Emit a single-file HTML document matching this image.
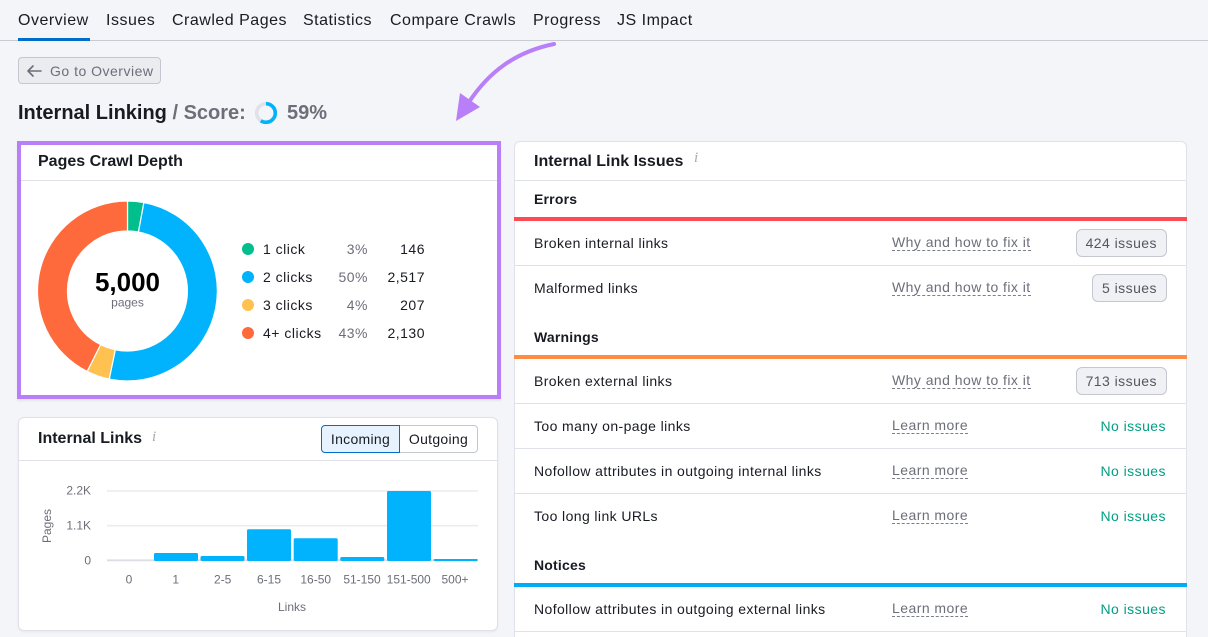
<!DOCTYPE html>
<html><head><meta charset="utf-8">
<style>
*{margin:0;padding:0;box-sizing:border-box}
html,body{width:1208px;height:637px;overflow:hidden;background:#f4f5f9;font-family:"Liberation Sans",Arial,sans-serif;color:#191b23}
#r{position:relative;width:1208px;height:637px;overflow:hidden;background:#f4f5f9}
.a{position:absolute;white-space:nowrap}
.tab{top:10px;font-size:16px;line-height:22px;letter-spacing:.5px;color:#191b23}
.t14{font-size:14px;line-height:20px;letter-spacing:.4px}
.h16{font-size:16px;line-height:22px;font-weight:bold}
.b14{font-size:14px;line-height:20px;font-weight:bold;letter-spacing:.2px}
.lnk{font-size:14px;line-height:15px;letter-spacing:.45px;color:#6c6e79;border-bottom:1px dashed #7c7e89}
.badge{height:28px;padding:0 9px;font-size:14px;line-height:26px;letter-spacing:.45px;border:1px solid #c4c7cf;background:#f0f1f5;border-radius:6px;color:#55575f}
.ok{font-size:14px;line-height:20px;letter-spacing:.45px;color:#009f81}
.div{height:1px;background:#e0e1e9}
.gray{color:#6c6e79}
</style></head><body>
<div id="r">

<!-- tabs -->
<div class="a tab" style="left:18px">Overview</div>
<div class="a tab" style="left:106px">Issues</div>
<div class="a tab" style="left:172px">Crawled Pages</div>
<div class="a tab" style="left:303px">Statistics</div>
<div class="a tab" style="left:390px">Compare Crawls</div>
<div class="a tab" style="left:533px">Progress</div>
<div class="a tab" style="left:617px">JS Impact</div>
<div class="a" style="left:0;top:40px;width:1208px;height:1px;background:#c9cbd3"></div>
<div class="a" style="left:18px;top:38px;width:72px;height:3px;background:#006dca"></div>

<!-- back button -->
<div class="a" style="left:18px;top:57px;width:143px;height:27px;border:1px solid #c4c7cf;background:#ebecf0;border-radius:4px"></div>
<div class="a t14 gray" style="left:50px;top:61px;letter-spacing:.5px">Go to Overview</div>

<!-- heading -->
<div class="a" style="left:18px;top:101px;font-size:20px;line-height:24px;font-weight:bold">Internal Linking <span style="color:#6c6e79">/ Score:</span></div>
<div class="a" style="left:287px;top:101px;font-size:20px;line-height:24px;font-weight:bold;color:#6c6e79">59%</div>

<!-- left card 1 (highlighted) -->
<div class="a" style="left:17px;top:141px;width:484px;height:258px;border:4px solid #b87ff8;background:#fff;box-shadow:0 2px 2px rgba(0,0,0,.07)"></div>
<div class="a h16" style="left:38px;top:151px">Pages Crawl Depth</div>
<div class="a div" style="left:21px;top:180px;width:476px"></div>

<!-- left card 2 -->
<div class="a" style="left:18px;top:417px;width:480px;height:214px;border:1px solid #e0e1e9;background:#fff;border-radius:6px;box-shadow:0 1px 2px rgba(0,0,0,.06)"></div>
<div class="a h16" style="left:38px;top:428px">Internal Links</div>
<div class="a" style="left:152px;top:427px;font-family:'Liberation Serif',serif;font-style:italic;font-size:15px;line-height:20px;color:#a7a9b2">i</div>
<div class="a div" style="left:19px;top:460px;width:478px"></div>
<div class="a" style="left:399px;top:425px;width:79px;height:28px;border:1px solid #c4c7cf;border-radius:0 4px 4px 0;background:#fff"></div>
<div class="a" style="left:321px;top:425px;width:79px;height:28px;border:1px solid #006dca;border-radius:4px 0 0 4px;background:#e6f3ff"></div>
<div class="a t14" style="left:321px;top:429px;width:79px;text-align:center;letter-spacing:.3px">Incoming</div>
<div class="a t14" style="left:399px;top:429px;width:79px;text-align:center;letter-spacing:.3px">Outgoing</div>

<!-- right card -->
<div class="a" style="left:514px;top:141px;width:673px;height:510px;border:1px solid #e0e1e9;background:#fff;border-radius:6px"></div>
<div class="a h16" style="left:534px;top:151px">Internal Link Issues</div>
<div class="a" style="left:694px;top:148px;font-family:'Liberation Serif',serif;font-style:italic;font-size:15px;line-height:20px;color:#a7a9b2">i</div>
<div class="a div" style="left:515px;top:180px;width:671px"></div>

<div class="a b14" style="left:534px;top:189px">Errors</div>
<div class="a" style="left:514px;top:217px;width:673px;height:4px;background:#ff4953"></div>

<div class="a t14" style="left:534px;top:233px">Broken internal links</div>
<div class="a lnk" style="left:892px;top:235px">Why and how to fix it</div>
<div class="a badge" style="right:41px;top:229px">424 issues</div>
<div class="a div" style="left:515px;top:265px;width:671px"></div>

<div class="a t14" style="left:534px;top:278px">Malformed links</div>
<div class="a lnk" style="left:892px;top:280px">Why and how to fix it</div>
<div class="a badge" style="right:41px;top:274px">5 issues</div>

<div class="a b14" style="left:534px;top:327px">Warnings</div>
<div class="a" style="left:514px;top:355px;width:673px;height:4px;background:#ff8c44"></div>

<div class="a t14" style="left:534px;top:371px">Broken external links</div>
<div class="a lnk" style="left:892px;top:373px">Why and how to fix it</div>
<div class="a badge" style="right:41px;top:367px">713 issues</div>
<div class="a div" style="left:515px;top:403px;width:671px"></div>

<div class="a t14" style="left:534px;top:416px">Too many on-page links</div>
<div class="a lnk" style="left:892px;top:418px">Learn more</div>
<div class="a ok" style="right:42px;top:416px">No issues</div>
<div class="a div" style="left:515px;top:448px;width:671px"></div>

<div class="a t14" style="left:534px;top:461px">Nofollow attributes in outgoing internal links</div>
<div class="a lnk" style="left:892px;top:463px">Learn more</div>
<div class="a ok" style="right:42px;top:461px">No issues</div>
<div class="a div" style="left:515px;top:493px;width:671px"></div>

<div class="a t14" style="left:534px;top:506px">Too long link URLs</div>
<div class="a lnk" style="left:892px;top:508px">Learn more</div>
<div class="a ok" style="right:42px;top:506px">No issues</div>

<div class="a b14" style="left:534px;top:555px">Notices</div>
<div class="a" style="left:514px;top:583px;width:673px;height:4px;background:#00adf5"></div>

<div class="a t14" style="left:534px;top:599px">Nofollow attributes in outgoing external links</div>
<div class="a lnk" style="left:892px;top:601px">Learn more</div>
<div class="a ok" style="right:42px;top:599px">No issues</div>
<div class="a div" style="left:515px;top:631px;width:671px"></div>

<!-- legend -->
<div class="a" style="left:242px;top:243px;width:12px;height:12px;border-radius:50%;background:#00bf8c"></div>
<div class="a" style="left:242px;top:271px;width:12px;height:12px;border-radius:50%;background:#00b3fc"></div>
<div class="a" style="left:242px;top:299px;width:12px;height:12px;border-radius:50%;background:#ffc250"></div>
<div class="a" style="left:242px;top:327px;width:12px;height:12px;border-radius:50%;background:#ff6a3c"></div>

<div class="a t14" style="left:263px;top:239px;letter-spacing:.5px">1 click</div>
<div class="a t14" style="left:263px;top:267px;letter-spacing:.5px">2 clicks</div>
<div class="a t14" style="left:263px;top:295px;letter-spacing:.5px">3 clicks</div>
<div class="a t14" style="left:263px;top:323px;letter-spacing:.5px">4+ clicks</div>

<div class="a t14 gray" style="right:840px;top:239px;letter-spacing:.5px">3%</div>
<div class="a t14 gray" style="right:840px;top:267px;letter-spacing:.5px">50%</div>
<div class="a t14 gray" style="right:840px;top:295px;letter-spacing:.5px">4%</div>
<div class="a t14 gray" style="right:840px;top:323px;letter-spacing:.5px">43%</div>

<div class="a t14" style="right:783px;top:239px;letter-spacing:.5px">146</div>
<div class="a t14" style="right:783px;top:267px;letter-spacing:.5px">2,517</div>
<div class="a t14" style="right:783px;top:295px;letter-spacing:.5px">207</div>
<div class="a t14" style="right:783px;top:323px;letter-spacing:.5px">2,130</div>

<svg class="a" style="left:0;top:0" width="1208" height="637" viewBox="0 0 1208 637" xmlns="http://www.w3.org/2000/svg">
  <!-- back arrow -->
  <path d="M41 71 H28 M33 66 L28 71 L33 76" fill="none" stroke="#6c6e79" stroke-width="1.6" stroke-linecap="round" stroke-linejoin="round"/>
  <!-- score ring -->
  <circle cx="266" cy="113" r="9.3" fill="none" stroke="#e0e1e9" stroke-width="3.6"/>
  <circle cx="266" cy="113" r="9.3" fill="none" stroke="#00b3fc" stroke-width="3.6" stroke-dasharray="34.5 100" transform="rotate(-90 266 113)"/>
  <!-- purple arrow -->
  <path d="M554 44 C515 52 489 72 469 102" fill="none" stroke="#b87ff8" stroke-width="4" stroke-linecap="round"/>
  <polygon points="456,121 480,107 460,93" fill="#b87ff8"/>

  <!-- donut -->
  <g stroke="#fff" stroke-width="1.2" stroke-linejoin="round">
    <path d="M127.5,201 A90,90 0 0 1 143.92,202.51 L138.44,232.01 A60,60 0 0 0 127.5,231 Z" fill="#00bf8c"/>
    <path d="M143.92,202.51 A90,90 0 1 1 109.19,379.12 L115.29,349.75 A60,60 0 1 0 138.44,232.01 Z" fill="#00b3fc"/>
    <path d="M109.19,379.12 A90,90 0 0 1 87.15,371.45 L100.60,344.63 A60,60 0 0 0 115.29,349.75 Z" fill="#ffc250"/>
    <path d="M87.15,371.45 A90,90 0 0 1 127.5,201 L127.5,231 A60,60 0 0 0 100.60,344.63 Z" fill="#ff6a3c"/>
  </g>
  <text x="127.5" y="291" text-anchor="middle" font-family="Liberation Sans, Arial, sans-serif" font-weight="bold" font-size="26" fill="#000">5,000</text>
  <text x="127.5" y="306.5" text-anchor="middle" font-family="Liberation Sans, Arial, sans-serif" font-size="12" fill="#6c6e79">pages</text>

  <!-- bar chart -->
  <line x1="107" y1="491" x2="478" y2="491" stroke="#ebecf0" stroke-width="1.6"/>
  <line x1="107" y1="525.7" x2="478" y2="525.7" stroke="#ebecf0" stroke-width="1.6"/>
  <line x1="107" y1="560.3" x2="478" y2="560.3" stroke="#dcdde3" stroke-width="1.8"/>
  <g fill="#00b3fc">
    <rect x="154" y="553" width="44" height="8" rx="1.5"/>
    <rect x="200.5" y="556" width="44" height="5" rx="1.5"/>
    <rect x="247" y="529.3" width="44" height="31.7" rx="1.5"/>
    <rect x="293.7" y="538.3" width="44" height="22.7" rx="1.5"/>
    <rect x="340.3" y="557" width="44" height="4" rx="1.5"/>
    <rect x="387" y="491" width="44" height="70" rx="1.5"/>
    <rect x="433.7" y="559" width="44" height="2" rx="1"/>
  </g>
  <g font-family="Liberation Sans, Arial, sans-serif" font-size="12" fill="#6c6e79">
    <text x="91" y="494.3" text-anchor="end">2.2K</text>
    <text x="91" y="529.5" text-anchor="end">1.1K</text>
    <text x="91" y="564.3" text-anchor="end">0</text>
    <text x="51" y="526" text-anchor="middle" transform="rotate(-90 51 526)">Pages</text>
    <g text-anchor="middle">
      <text x="129" y="583.3">0</text>
      <text x="175.7" y="583.3">1</text>
      <text x="222.7" y="583.3">2-5</text>
      <text x="269" y="583.3">6-15</text>
      <text x="315.7" y="583.3">16-50</text>
      <text x="362" y="583.3">51-150</text>
      <text x="408.7" y="583.3">151-500</text>
      <text x="455" y="583.3">500+</text>
      <text x="292" y="611">Links</text>
    </g>
  </g>
</svg>

</div>
</body></html>
